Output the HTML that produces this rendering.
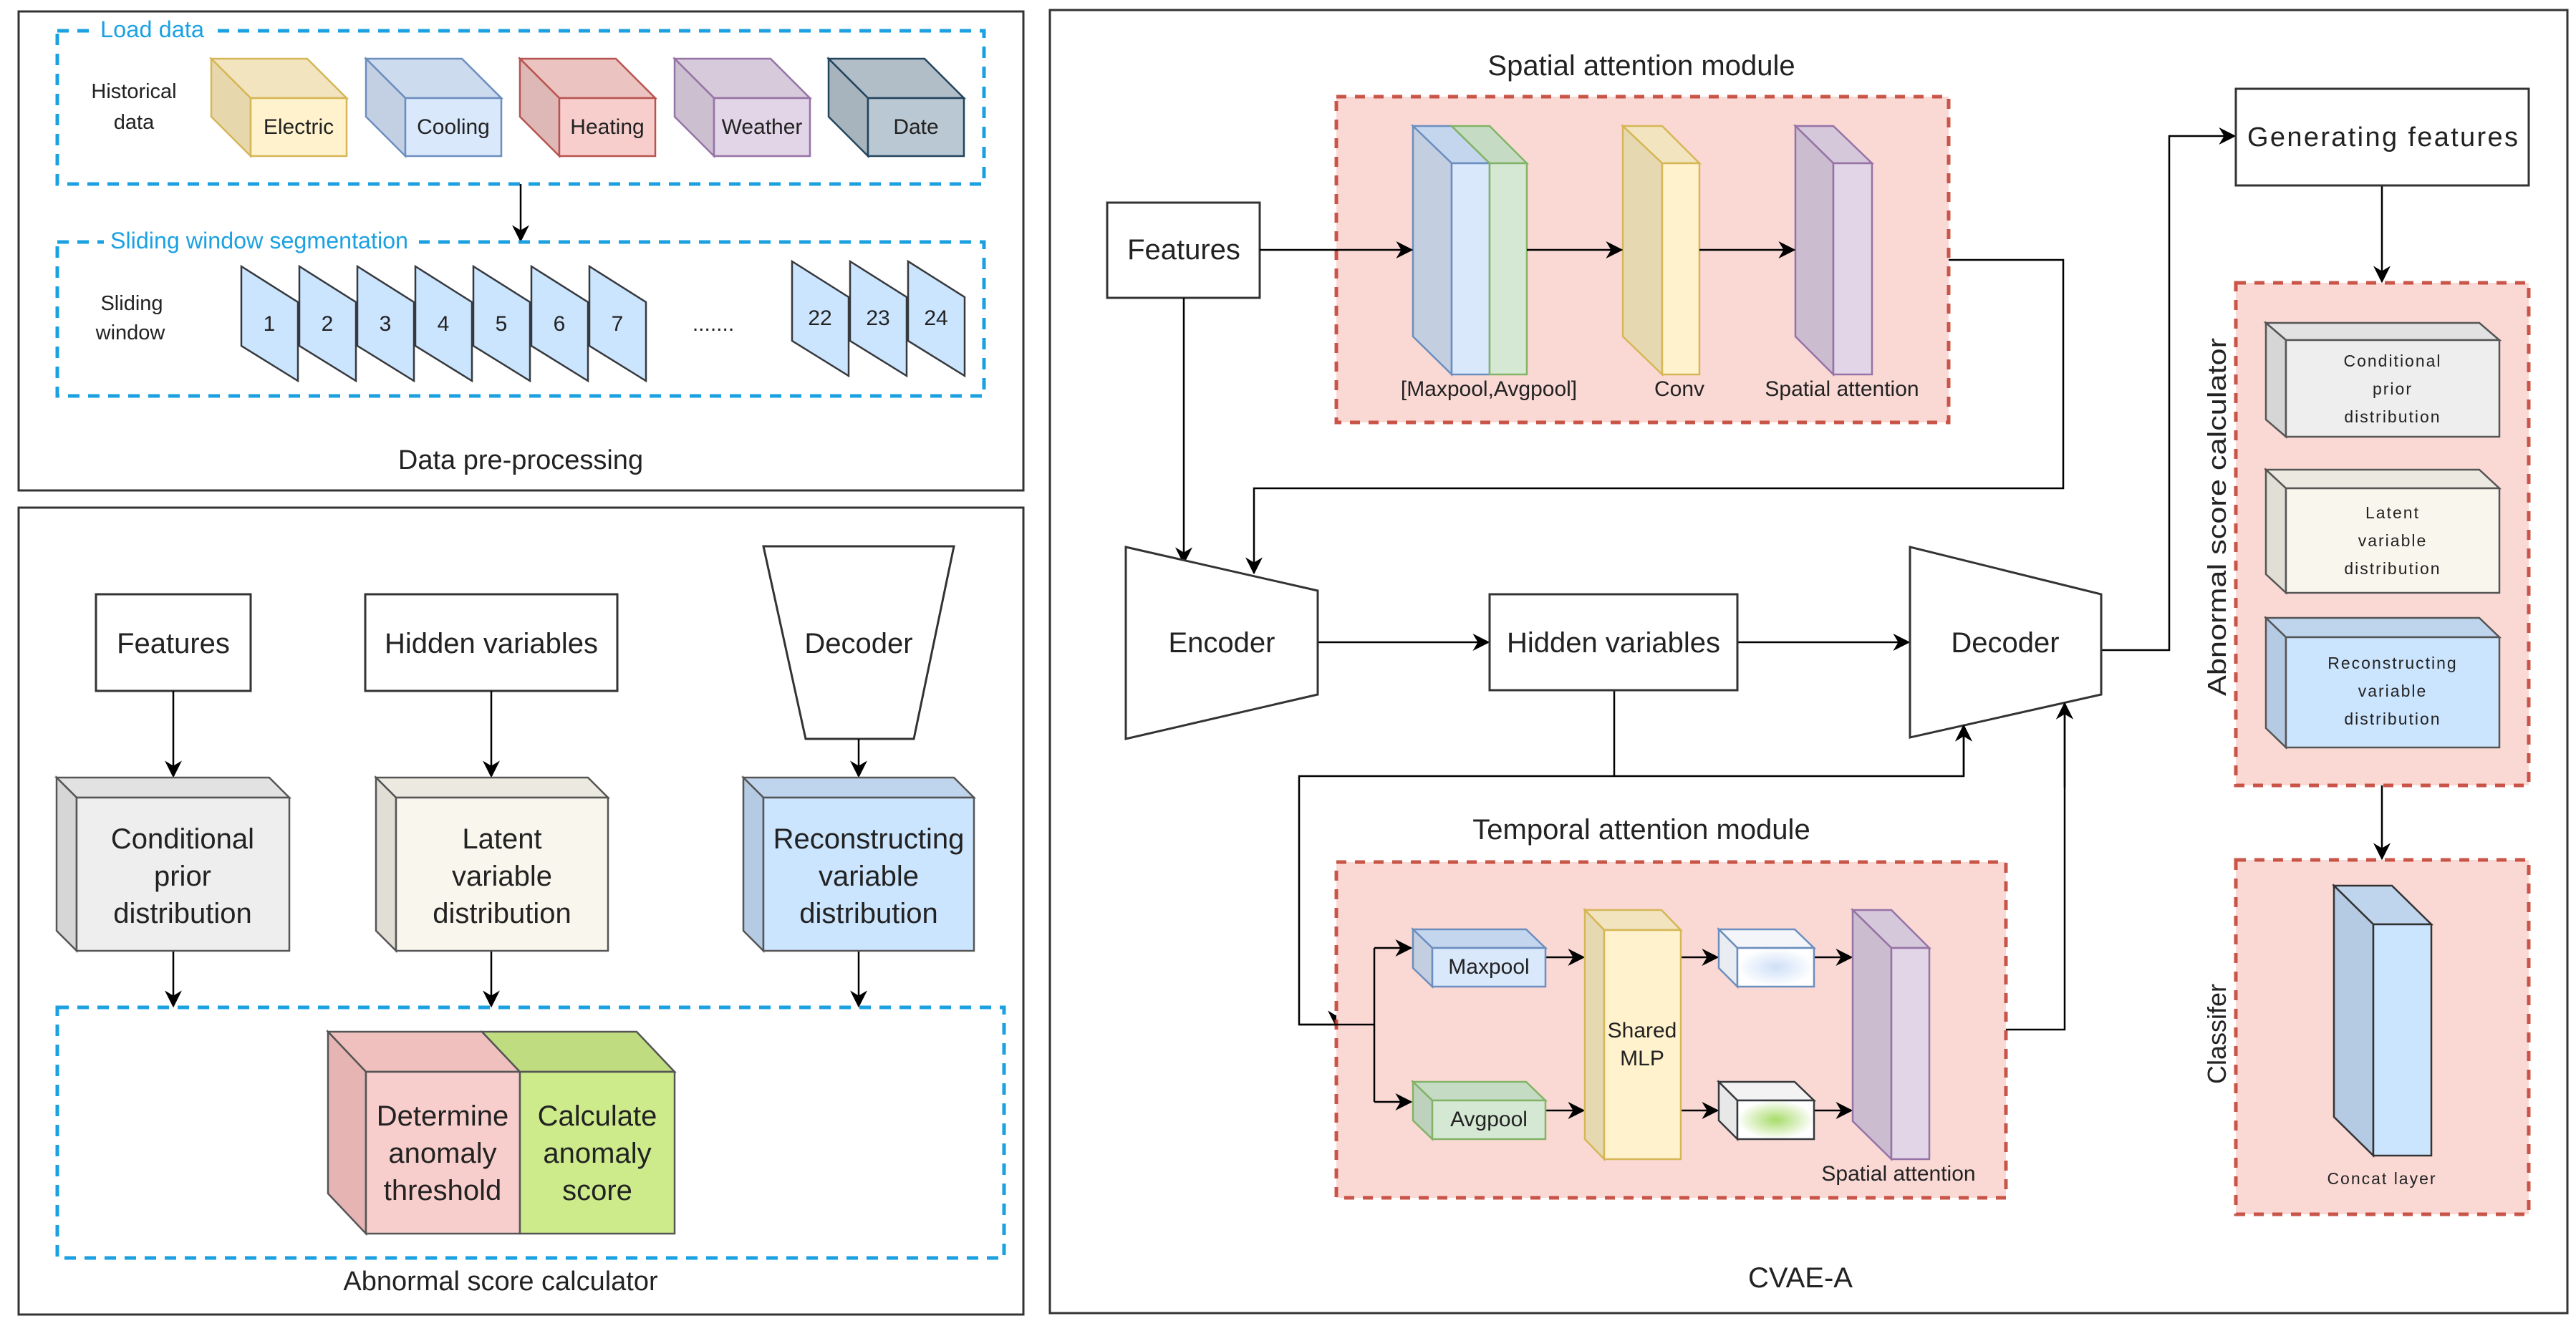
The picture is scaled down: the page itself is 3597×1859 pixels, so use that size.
<!DOCTYPE html>
<html><head><meta charset="utf-8"><style>
html,body{margin:0;padding:0;background:#fff}
svg{display:block}
text{font-family:"Liberation Sans",Arial,sans-serif;fill:#222}
</style></head><body>
<svg width="3597" height="1859" viewBox="0 0 3597 1859" xmlns="http://www.w3.org/2000/svg">
<defs>
<marker id="ah" viewBox="0 0 10 10" refX="9" refY="5" markerWidth="7" markerHeight="7" orient="auto" markerUnits="userSpaceOnUse">
<path d="M0,0 L10,5 L0,10 L3,5 z" fill="#000"/></marker>
<marker id="a" viewBox="0 0 10 10" refX="9" refY="5" markerWidth="24" markerHeight="24" orient="auto" markerUnits="userSpaceOnUse">
<path d="M0,0 L10,5 L0,10 L3,5 z" fill="#000"/></marker>
<radialGradient id="gb"><stop offset="0" stop-color="#cfe0f7"/><stop offset="1" stop-color="#fff"/></radialGradient>
<radialGradient id="gg"><stop offset="0" stop-color="#a8dc6a"/><stop offset="1" stop-color="#fff"/></radialGradient>
</defs>

<!-- Panels -->
<rect x="26" y="16" width="1403" height="669" fill="#fff" stroke="#333" stroke-width="3"/>
<rect x="26" y="709" width="1403" height="1127" fill="#fff" stroke="#333" stroke-width="3"/>
<rect x="1466" y="14" width="2119" height="1820" fill="#fff" stroke="#333" stroke-width="3"/>

<!-- Panel 1 -->
<rect x="80" y="43" width="1294" height="214" fill="none" stroke="#1ba1e2" stroke-width="5" stroke-dasharray="16,12"/>
<rect x="132" y="24" width="162" height="36" fill="#fff"/>
<text x="140" y="52" font-size="32" style="fill:#1ba1e2" textLength="145" lengthAdjust="spacingAndGlyphs">Load data</text>
<text x="187" y="137" font-size="29" text-anchor="middle">Historical</text>
<text x="187" y="180" font-size="29" text-anchor="middle">data</text>

<g stroke-width="2.5">
<polygon points="295,82 429,82 484,137 350,137" fill="#f1e4bf" stroke="#d6b656"/>
<polygon points="295,82 350,137 350,218 295,163" fill="#e6d7ad" stroke="#d6b656"/>
<rect x="350" y="137" width="134" height="81" fill="#fff2cc" stroke="#d6b656"/>
<polygon points="511,82 645,82 700,137 566,137" fill="#cddbee" stroke="#6c8ebf"/>
<polygon points="511,82 566,137 566,218 511,163" fill="#c3d0e3" stroke="#6c8ebf"/>
<rect x="566" y="137" width="134" height="81" fill="#dae8fc" stroke="#6c8ebf"/>
<polygon points="726,82 860,82 915,137 781,137" fill="#ebc3c1" stroke="#b85450"/>
<polygon points="726,82 781,137 781,218 726,163" fill="#deb8b6" stroke="#b85450"/>
<rect x="781" y="137" width="134" height="81" fill="#f8cecc" stroke="#b85450"/>
<polygon points="942,82 1076,82 1131,137 997,137" fill="#d6cadb" stroke="#9673a6"/>
<polygon points="942,82 997,137 997,218 942,163" fill="#cbbfd0" stroke="#9673a6"/>
<rect x="997" y="137" width="134" height="81" fill="#e1d5e7" stroke="#9673a6"/>
<polygon points="1157,82 1291,82 1346,137 1212,137" fill="#b1bec8" stroke="#23445d"/>
<polygon points="1157,82 1212,137 1212,218 1157,163" fill="#a7b4bd" stroke="#23445d"/>
<rect x="1212" y="137" width="134" height="81" fill="#bac8d3" stroke="#23445d"/>
</g>
<g font-size="30" text-anchor="middle">
<text x="417" y="187">Electric</text><text x="633" y="187">Cooling</text><text x="848" y="187">Heating</text><text x="1064" y="187">Weather</text><text x="1279" y="187">Date</text>
</g>

<line x1="727" y1="257" x2="727" y2="336" stroke="#000" stroke-width="2.5" marker-end="url(#a)"/>

<rect x="80" y="338" width="1294" height="215" fill="none" stroke="#1ba1e2" stroke-width="5" stroke-dasharray="16,12"/>
<rect x="145" y="320" width="440" height="36" fill="#fff"/>
<text x="154" y="347" font-size="32" style="fill:#1ba1e2" textLength="416" lengthAdjust="spacingAndGlyphs">Sliding window segmentation</text>
<text x="184" y="433" font-size="29" text-anchor="middle">Sliding</text>
<text x="182" y="474" font-size="29" text-anchor="middle">window</text>

<g fill="#cce5ff" stroke="#36393d" stroke-width="2.5">
<polygon points="337,372 416,422 416,532 337,483"/>
<polygon points="418,372 497,422 497,532 418,483"/>
<polygon points="499,372 578,422 578,532 499,483"/>
<polygon points="580,372 659,422 659,532 580,483"/>
<polygon points="661,372 740,422 740,532 661,483"/>
<polygon points="742,372 821,422 821,532 742,483"/>
<polygon points="823,372 902,422 902,532 823,483"/>
<polygon points="1106,365 1185,415 1185,525 1106,476"/>
<polygon points="1187,365 1266,415 1266,525 1187,476"/>
<polygon points="1268,365 1347,415 1347,525 1268,476"/>
</g>
<g font-size="30" text-anchor="middle">
<text x="376" y="462">1</text><text x="457" y="462">2</text><text x="538" y="462">3</text><text x="619" y="462">4</text><text x="700" y="462">5</text><text x="781" y="462">6</text><text x="862" y="462">7</text>
<text x="1145" y="454">22</text><text x="1226" y="454">23</text><text x="1307" y="454">24</text>
</g>
<text x="996" y="462" font-size="30" text-anchor="middle">.......</text>
<text x="727" y="655" font-size="38" text-anchor="middle">Data pre-processing</text>

<!-- Panel 2 -->
<rect x="134" y="830" width="216" height="135" fill="#fff" stroke="#333" stroke-width="3"/>
<text x="242" y="912" font-size="40" text-anchor="middle">Features</text>
<rect x="510" y="830" width="352" height="135" fill="#fff" stroke="#333" stroke-width="3"/>
<text x="686" y="912" font-size="40" text-anchor="middle">Hidden variables</text>
<polygon points="1066,763 1332,763 1276,1032 1125,1032" fill="#fff" stroke="#333" stroke-width="3"/>
<text x="1199" y="912" font-size="40" text-anchor="middle">Decoder</text>

<g stroke="#000" stroke-width="2.5">
<line x1="242" y1="965" x2="242" y2="1084" marker-end="url(#a)"/>
<line x1="686" y1="965" x2="686" y2="1084" marker-end="url(#a)"/>
<line x1="1199" y1="1032" x2="1199" y2="1084" marker-end="url(#a)"/>
<line x1="242" y1="1328" x2="242" y2="1405" marker-end="url(#a)"/>
<line x1="686" y1="1328" x2="686" y2="1405" marker-end="url(#a)"/>
<line x1="1199" y1="1328" x2="1199" y2="1405" marker-end="url(#a)"/>
</g>

<g stroke="#555" stroke-width="2.5">
<polygon points="79,1086 376,1086 404,1114 107,1114" fill="#e2e2e2"/>
<polygon points="79,1086 107,1114 107,1328 79,1300" fill="#d6d6d6"/>
<rect x="107" y="1114" width="297" height="214" fill="#eeeeee"/>
<polygon points="525,1086 821,1086 849,1114 553,1114" fill="#ebe9e0"/>
<polygon points="525,1086 553,1114 553,1328 525,1300" fill="#e0ded5"/>
<rect x="553" y="1114" width="296" height="214" fill="#f9f7ed"/>
<polygon points="1038,1086 1332,1086 1360,1114 1066,1114" fill="#bfd5ee"/>
<polygon points="1038,1086 1066,1114 1066,1328 1038,1300" fill="#b5cbe4"/>
<rect x="1066" y="1114" width="294" height="214" fill="#cce5ff"/>
</g>
<g font-size="40" text-anchor="middle">
<text x="255" y="1185">Conditional</text><text x="255" y="1237">prior</text><text x="255" y="1289">distribution</text>
<text x="701" y="1185">Latent</text><text x="701" y="1237">variable</text><text x="701" y="1289">distribution</text>
<text x="1213" y="1185">Reconstructing</text><text x="1213" y="1237">variable</text><text x="1213" y="1289">distribution</text>
</g>

<rect x="80" y="1407" width="1322" height="350" fill="none" stroke="#1ba1e2" stroke-width="5" stroke-dasharray="16,12"/>
<g stroke="#555" stroke-width="2.5">
<polygon points="458,1441 673,1441 726,1497 511,1497" fill="#efc0be"/>
<polygon points="458,1441 511,1497 511,1723 458,1667" fill="#e6b4b2"/>
<rect x="511" y="1497" width="215" height="226" fill="#f8cecc"/>
<polygon points="673,1441 889,1441 942,1497 726,1497" fill="#bfdc80"/>
<rect x="726" y="1497" width="216" height="226" fill="#cdeb8b"/>
</g>
<g font-size="40" text-anchor="middle">
<text x="618" y="1572">Determine</text><text x="618" y="1624">anomaly</text><text x="618" y="1676">threshold</text>
<text x="834" y="1572">Calculate</text><text x="834" y="1624">anomaly</text><text x="834" y="1676">score</text>
</g>
<text x="699" y="1802" font-size="38" text-anchor="middle">Abnormal score calculator</text>

<!-- Panel 3 -->
<text x="2292" y="105" font-size="40" text-anchor="middle">Spatial attention module</text>
<rect x="1866" y="135" width="855" height="455" fill="#fad9d5" stroke="#c0392b" stroke-opacity="0.85" stroke-width="5" stroke-dasharray="14,12"/>
<rect x="1546" y="283" width="213" height="133" fill="#fff" stroke="#333" stroke-width="3"/>
<text x="1653" y="362" font-size="40" text-anchor="middle">Features</text>

<g stroke-width="2.5">
<polygon points="1973,176 2027,176 2080,228 2027,228" fill="#c3d6ee" stroke="#6c8ebf"/>
<polygon points="1973,176 2027,228 2027,523 1973,470" fill="#c3cfe0" stroke="#6c8ebf"/>
<rect x="2027" y="228" width="53" height="295" fill="#dae8fc" stroke="#6c8ebf"/>
<polygon points="2027,176 2080,176 2132,228 2080,228" fill="#c6dbc4" stroke="#82b366"/>
<rect x="2080" y="228" width="52" height="295" fill="#d5e8d4" stroke="#82b366"/>
<polygon points="2266,176 2321,176 2373,228 2321,228" fill="#f1e4bf" stroke="#d6b656"/>
<polygon points="2266,176 2321,228 2321,523 2266,470" fill="#e6d9b2" stroke="#d6b656"/>
<rect x="2321" y="228" width="52" height="295" fill="#fff2cc" stroke="#d6b656"/>
<polygon points="2507,176 2560,176 2614,228 2560,228" fill="#d5c8da" stroke="#9673a6"/>
<polygon points="2507,176 2560,228 2560,523 2507,470" fill="#cbbcd0" stroke="#9673a6"/>
<rect x="2560" y="228" width="54" height="295" fill="#e1d5e7" stroke="#9673a6"/>
</g>
<g font-size="30" text-anchor="middle">
<text x="2079" y="553">[Maxpool,Avgpool]</text><text x="2345" y="553">Conv</text><text x="2572" y="553">Spatial attention</text>
</g>

<g stroke="#000" stroke-width="2.5" fill="none">
<line x1="1759" y1="349" x2="1971" y2="349" marker-end="url(#a)"/>
<line x1="2132" y1="349" x2="2264" y2="349" marker-end="url(#a)"/>
<line x1="2373" y1="349" x2="2505" y2="349" marker-end="url(#a)"/>
<polyline points="2721,363 2881,363 2881,682 1751,682 1751,800" marker-end="url(#a)"/>
<line x1="1653" y1="416" x2="1653" y2="786" marker-end="url(#a)"/>
<line x1="1840" y1="897" x2="2078" y2="897" marker-end="url(#a)"/>
<line x1="2426" y1="897" x2="2665" y2="897" marker-end="url(#a)"/>
<polyline points="2254,964 2254,1084 2742,1084 2742,1014" marker-end="url(#a)"/>
<polyline points="2254,1084 1814,1084 1814,1431 1919,1431"/>
<line x1="1866" y1="1418" x2="1866" y2="1433" marker-end="url(#a)"/>
<polyline points="1919,1324 1919,1539"/>
<line x1="1919" y1="1324" x2="1970" y2="1324" marker-end="url(#a)"/>
<line x1="1919" y1="1539" x2="1970" y2="1539" marker-end="url(#a)"/>
<polyline points="2801,1438 2883,1438 2883,983" marker-end="url(#a)"/>
<polyline points="2934,908 3029,908 3029,190 3120,190" marker-end="url(#a)"/>
<line x1="3326" y1="259" x2="3326" y2="393" marker-end="url(#a)"/>
<line x1="3326" y1="1097" x2="3326" y2="1199" marker-end="url(#a)"/>
</g>

<polygon points="1572,764 1840,825 1840,970 1572,1032" fill="#fff" stroke="#333" stroke-width="3"/>
<text x="1706" y="911" font-size="40" text-anchor="middle">Encoder</text>
<rect x="2080" y="830" width="346" height="134" fill="#fff" stroke="#333" stroke-width="3"/>
<text x="2253" y="911" font-size="40" text-anchor="middle">Hidden variables</text>
<polygon points="2667,764 2934,830 2934,970 2667,1030" fill="#fff" stroke="#333" stroke-width="3"/>
<text x="2800" y="911" font-size="40" text-anchor="middle">Decoder</text>
<line x1="2742" y1="1084" x2="2742" y2="1014" stroke="#000" stroke-width="2.5" marker-end="url(#a)"/>
<line x1="2883" y1="1100" x2="2883" y2="983" stroke="#000" stroke-width="2.5" marker-end="url(#a)"/>

<text x="2292" y="1172" font-size="40" text-anchor="middle">Temporal attention module</text>
<rect x="1866" y="1204" width="935" height="469" fill="#fad9d5" stroke="#c0392b" stroke-opacity="0.85" stroke-width="5" stroke-dasharray="14,12"/>
<g stroke="#000" stroke-width="2.5" fill="none">
<polyline points="1814,1431 1919,1431"/>
<polyline points="1919,1324 1919,1539"/>
<line x1="1919" y1="1324" x2="1970" y2="1324" marker-end="url(#a)"/>
<line x1="1919" y1="1539" x2="1970" y2="1539" marker-end="url(#a)"/>
<line x1="2158" y1="1337" x2="2211" y2="1337" marker-end="url(#a)"/>
<line x1="2158" y1="1551" x2="2211" y2="1551" marker-end="url(#a)"/>
<line x1="2347" y1="1337" x2="2398" y2="1337" marker-end="url(#a)"/>
<line x1="2347" y1="1551" x2="2398" y2="1551" marker-end="url(#a)"/>
<line x1="2533" y1="1337" x2="2585" y2="1337" marker-end="url(#a)"/>
<line x1="2533" y1="1551" x2="2585" y2="1551" marker-end="url(#a)"/>
</g>
<g stroke-width="2.5">
<polygon points="1973,1298 2131,1298 2158,1324 2000,1324" fill="#c3d6ee" stroke="#6c8ebf"/>
<polygon points="1973,1298 2000,1324 2000,1378 1973,1352" fill="#c3cfe0" stroke="#6c8ebf"/>
<rect x="2000" y="1324" width="158" height="54" fill="#dae8fc" stroke="#6c8ebf"/>
<polygon points="1973,1511 2131,1511 2158,1537 2000,1537" fill="#c6dbc4" stroke="#82b366"/>
<polygon points="1973,1511 2000,1537 2000,1591 1973,1565" fill="#bed1bd" stroke="#82b366"/>
<rect x="2000" y="1537" width="158" height="54" fill="#d5e8d4" stroke="#82b366"/>
<polygon points="2213,1271 2320,1271 2347,1299 2240,1299" fill="#f1e4bf" stroke="#d6b656"/>
<polygon points="2213,1271 2240,1299 2240,1619 2213,1591" fill="#e6d9b2" stroke="#d6b656"/>
<rect x="2240" y="1299" width="107" height="320" fill="#fff2cc" stroke="#d6b656"/>
<polygon points="2400,1298 2506,1298 2533,1324 2426,1324" fill="#f3f5f8" stroke="#6c8ebf"/>
<polygon points="2400,1298 2426,1324 2426,1378 2400,1352" fill="#e9ecf0" stroke="#6c8ebf"/>
<rect x="2426" y="1324" width="107" height="54" fill="url(#gb)" stroke="#6c8ebf"/>
<polygon points="2400,1511 2506,1511 2533,1537 2426,1537" fill="#f3f3f3" stroke="#36393d"/>
<polygon points="2400,1511 2426,1537 2426,1591 2400,1565" fill="#e8e8e8" stroke="#36393d"/>
<rect x="2426" y="1537" width="107" height="54" fill="url(#gg)" stroke="#36393d"/>
<polygon points="2587,1271 2641,1271 2694,1324 2641,1324" fill="#d5c8da" stroke="#9673a6"/>
<polygon points="2587,1271 2641,1324 2641,1619 2587,1566" fill="#cbbcd0" stroke="#9673a6"/>
<rect x="2641" y="1324" width="53" height="295" fill="#e1d5e7" stroke="#9673a6"/>
</g>
<g font-size="30" text-anchor="middle">
<text x="2079" y="1360">Maxpool</text><text x="2079" y="1573">Avgpool</text>
<text x="2293" y="1449">Shared</text><text x="2293" y="1488">MLP</text>
<text x="2651" y="1649">Spatial attention</text>
</g>
<text x="2514" y="1798" font-size="40" text-anchor="middle">CVAE-A</text>

<!-- Right column -->
<rect x="3122" y="124" width="409" height="135" fill="#fff" stroke="#333" stroke-width="3"/>
<text x="3327" y="204" font-size="38" text-anchor="middle" textLength="378" lengthAdjust="spacing">Generating features</text>

<rect x="3122" y="395" width="409" height="702" fill="#fad9d5" stroke="#c0392b" stroke-opacity="0.85" stroke-width="5" stroke-dasharray="14,12"/>
<g stroke="#555" stroke-width="2.5">
<polygon points="3164,451 3462,451 3490,475 3192,475" fill="#e2e2e2"/>
<polygon points="3164,451 3192,475 3192,610 3164,586" fill="#d6d6d6"/>
<rect x="3192" y="475" width="298" height="135" fill="#eeeeee"/>
<polygon points="3164,656 3462,656 3490,682 3192,682" fill="#ebe9e0"/>
<polygon points="3164,656 3192,682 3192,828 3164,802" fill="#e0ded5"/>
<rect x="3192" y="682" width="298" height="146" fill="#f9f7ed"/>
<polygon points="3164,863 3462,863 3490,890 3192,890" fill="#bfd5ee"/>
<polygon points="3164,863 3192,890 3192,1044 3164,1017" fill="#b5cbe4"/>
<rect x="3192" y="890" width="298" height="154" fill="#cce5ff"/>
</g>
<g font-size="23" text-anchor="middle" style="letter-spacing:2px">
<text x="3341" y="512">Conditional</text><text x="3341" y="551">prior</text><text x="3341" y="590">distribution</text>
<text x="3341" y="724">Latent</text><text x="3341" y="763">variable</text><text x="3341" y="802">distribution</text>
<text x="3341" y="934">Reconstructing</text><text x="3341" y="973">variable</text><text x="3341" y="1012">distribution</text>
</g>
<text transform="translate(3108,722) rotate(-90)" font-size="36" text-anchor="middle" textLength="500" lengthAdjust="spacingAndGlyphs">Abnormal score calculator</text>

<rect x="3122" y="1201" width="409" height="495" fill="#fad9d5" stroke="#c0392b" stroke-opacity="0.85" stroke-width="5" stroke-dasharray="14,12"/>
<g stroke="#333" stroke-width="2.5">
<polygon points="3259,1237 3340,1237 3395,1291 3314,1291" fill="#bfd5ee"/>
<polygon points="3259,1237 3314,1291 3314,1614 3259,1560" fill="#b5cbe4"/>
<rect x="3314" y="1291" width="81" height="323" fill="#cce5ff"/>
</g>
<text x="3326" y="1654" font-size="23" text-anchor="middle" style="letter-spacing:2px">Concat layer</text>
<text transform="translate(3108,1444) rotate(-90)" font-size="36" text-anchor="middle">Classifer</text>
</svg>
</body></html>
